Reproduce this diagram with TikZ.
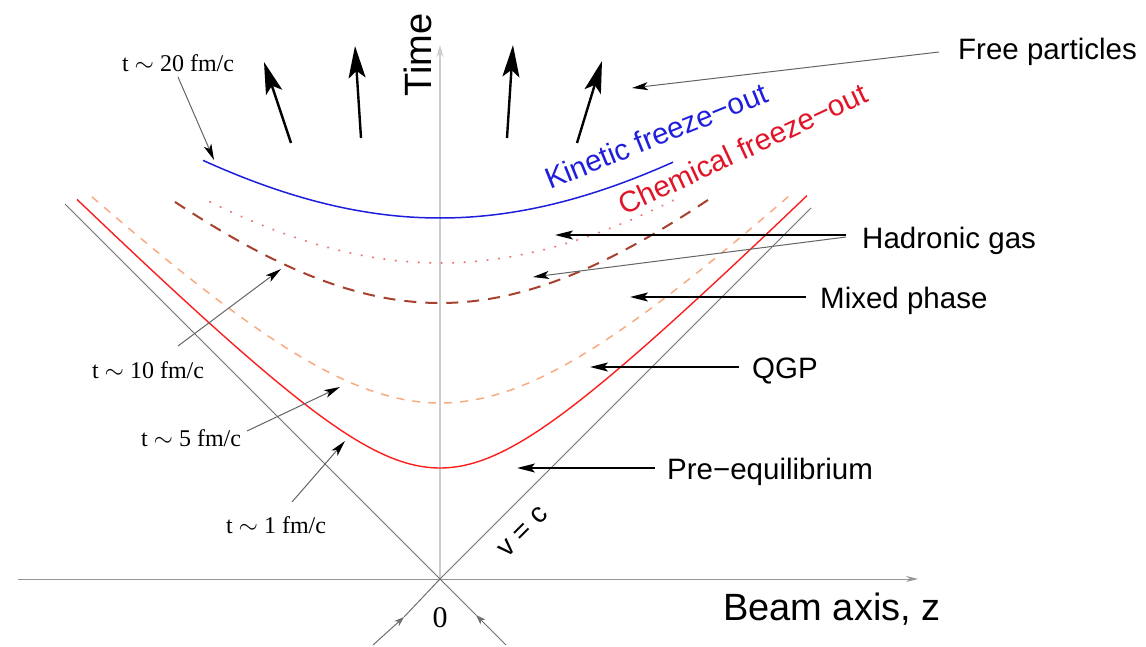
\documentclass[tikz,border=0pt]{standalone}
\usepackage{fontspec}
\setmainfont{Liberation Serif}
\setsansfont{Liberation Sans}
\usetikzlibrary{arrows.meta}
\definecolor{axgray}{RGB}{205,205,205}
\definecolor{hgray}{RGB}{150,150,150}
\definecolor{conegray}{RGB}{110,110,110}
\definecolor{kinblue}{RGB}{30,30,220}
\definecolor{chemred}{RGB}{225,20,40}
\definecolor{qgpred}{RGB}{250,30,30}
\definecolor{salmon}{RGB}{250,170,130}
\definecolor{brownd}{RGB}{165,65,45}
\definecolor{pinkdot}{RGB}{240,120,120}
\definecolor{ptrgray}{RGB}{100,100,100}
\begin{document}
\begin{tikzpicture}[x=1pt,y=-1pt,
  lbl/.style={font=\sffamily\fontsize{29.5}{32}\selectfont, inner sep=0pt},
  biglbl/.style={font=\sffamily\fontsize{38}{40}\selectfont, inner sep=0pt},
  tlbl/.style={font=\rmfamily\fontsize{24}{26}\selectfont, inner sep=0pt},
  ptr/.style={draw=black, line width=1.8pt, -{Stealth[length=18pt,width=9pt,inset=4pt]}},
  gptr/.style={draw=ptrgray, line width=1pt, -{Stealth[length=16pt,width=8pt,inset=4pt,color=black]}},
  flow/.style={line width=2.4pt, -{Stealth[length=32pt,width=17pt,inset=7pt]}},
  axis/.style={line width=1pt, draw=hgray, -{Stealth[length=12pt,width=6pt]}},
  taxis/.style={line width=2.5pt, draw=axgray, -{Stealth[length=12pt,width=7pt]}},
  cone/.style={line width=1pt, draw=conegray},
  incoming/.style={cone, -{Stealth[length=10pt,width=7pt,inset=3pt]}},
  preq/.style={line width=1.4pt, draw=qgpred},
  qgpc/.style={line width=1.5pt, draw=salmon, dash pattern=on 8pt off 8pt},
  mixc/.style={line width=2pt, draw=brownd, dash pattern=on 12pt off 9pt},
  hadc/.style={line width=2pt, draw=pinkdot, line cap=round, dash pattern=on 0.5pt off 11pt},
  kinc/.style={line width=1.5pt, draw=kinblue}
]
\useasboundingbox (0,0) rectangle (1146,647);

% coordinates
\coordinate (O) at (440,579);
\coordinate (xs) at (18,579);
\coordinate (xe) at (918,579);
\coordinate (te) at (440,45);
\coordinate (cl) at (65,204);
\coordinate (cr) at (811,208);
\coordinate (bl) at (373,645);
\coordinate (br) at (506,645);
\coordinate (blm) at (404,617);
\coordinate (brm) at (476,615);

% axes
\draw[axis] (xs) -- (xe);
\draw[taxis] (O) -- (te);

% light cone
\draw[cone] (cl) -- (O) -- (cr);
\draw[incoming] (bl) -- (blm);
\draw[cone] (blm) -- (O);
\draw[incoming] (br) -- (brm);
\draw[cone] (brm) -- (O);

% hyperbolae
\draw[preq] plot[domain=-363:367,samples=120,smooth] ({440+\x},{579-100*sqrt(1.11^2+(\x/100)^2)});
\draw[qgpc] plot[domain=-348:352,samples=120,smooth] ({440+\x},{579-100*sqrt(1.76^2+0.95*(\x/100)^2)});
\draw[mixc] plot[domain=-265:268,samples=100,smooth] ({440+\x},{579-100*sqrt(2.76^2+0.94*(\x/100)^2)});
\draw[hadc] plot[domain=-230:233,samples=100,smooth] ({440+\x},{579-100*sqrt(3.16^2+0.8*(\x/100)^2)});
\draw[kinc] plot[domain=-237:233,samples=100,smooth] ({440+\x},{579-100*sqrt(3.61^2+0.8*(\x/100)^2)});

% free-streaming arrows
\coordinate (f1a) at (291,143); \coordinate (f1b) at (264,62);
\coordinate (f2a) at (361,138); \coordinate (f2b) at (355,46);
\coordinate (f3a) at (507,138); \coordinate (f3b) at (513,45);
\coordinate (f4a) at (577,143); \coordinate (f4b) at (602,61);
\draw[flow] (f1a) -- (f1b);
\draw[flow] (f2a) -- (f2b);
\draw[flow] (f3a) -- (f3b);
\draw[flow] (f4a) -- (f4b);

% axis labels
\node[biglbl, rotate=90] (time) at (418,55) {Time};
\node[biglbl, anchor=base west] (beam) at (723,620) {Beam axis, z};
\node[font=\rmfamily\fontsize{30}{32}\selectfont, inner sep=0pt] (zero) at (440,618) {0};
\node[font=\sffamily\fontsize{28}{30}\selectfont, inner sep=0pt, rotate=45] (vc) at (523,532) {v = c};

% curve labels
\node[lbl, text=kinblue, rotate=22, anchor=base west] (kin) at (550,190) {Kinetic freeze\char"2212 out};
\node[lbl, text=chemred, rotate=25, anchor=base west] (chem) at (624,216) {Chemical freeze\char"2212 out};

% right labels
\node[lbl, anchor=base west] (free) at (958,60) {Free particles};
\node[lbl, anchor=base west] (hadr) at (862,248) {Hadronic gas};
\node[lbl, anchor=base west] (mixed) at (820,308) {Mixed phase};
\node[lbl, anchor=base west] (qgp) at (752,378) {QGP};
\node[lbl, anchor=base west] (pre) at (667,479) {Pre\char"2212 equilibrium};

\coordinate (freeA) at (939,52);  \coordinate (freeB) at (632,88);
\coordinate (hadA) at (846,235);  \coordinate (hadB) at (555,235);
\coordinate (hadC) at (846,237);  \coordinate (hadD) at (533,277);
\coordinate (mixA) at (806,297);  \coordinate (mixB) at (630,297);
\coordinate (qgpA) at (739,367);  \coordinate (qgpB) at (590,367);
\coordinate (preA) at (655,468);  \coordinate (preB) at (517,468);
\draw[gptr] (freeA) -- (freeB);
\draw[ptr] (hadA) -- (hadB);
\draw[gptr] (hadC) -- (hadD);
\draw[ptr] (mixA) -- (mixB);
\draw[ptr] (qgpA) -- (qgpB);
\draw[ptr] (preA) -- (preB);

% time labels
\node[tlbl] (lab20) at (178,63) {t $\sim$ 20 fm/c};
\node[tlbl] (lab10) at (148,370) {t $\sim$ 10 fm/c};
\node[tlbl] (lab5) at (191,438) {t $\sim$ 5 fm/c};
\node[tlbl] (lab1) at (276,525) {t $\sim$ 1 fm/c};
\coordinate (p20a) at (178,77);  \coordinate (p20b) at (214,160);
\coordinate (p10a) at (178,346); \coordinate (p10b) at (281,269);
\coordinate (p5a) at (247,431);  \coordinate (p5b) at (340,387);
\coordinate (p1a) at (292,502);  \coordinate (p1b) at (345,441);
\draw[gptr] (p20a) -- (p20b);
\draw[gptr] (p10a) -- (p10b);
\draw[gptr] (p5a) -- (p5b);
\draw[gptr] (p1a) -- (p1b);
\end{tikzpicture}
\end{document}
